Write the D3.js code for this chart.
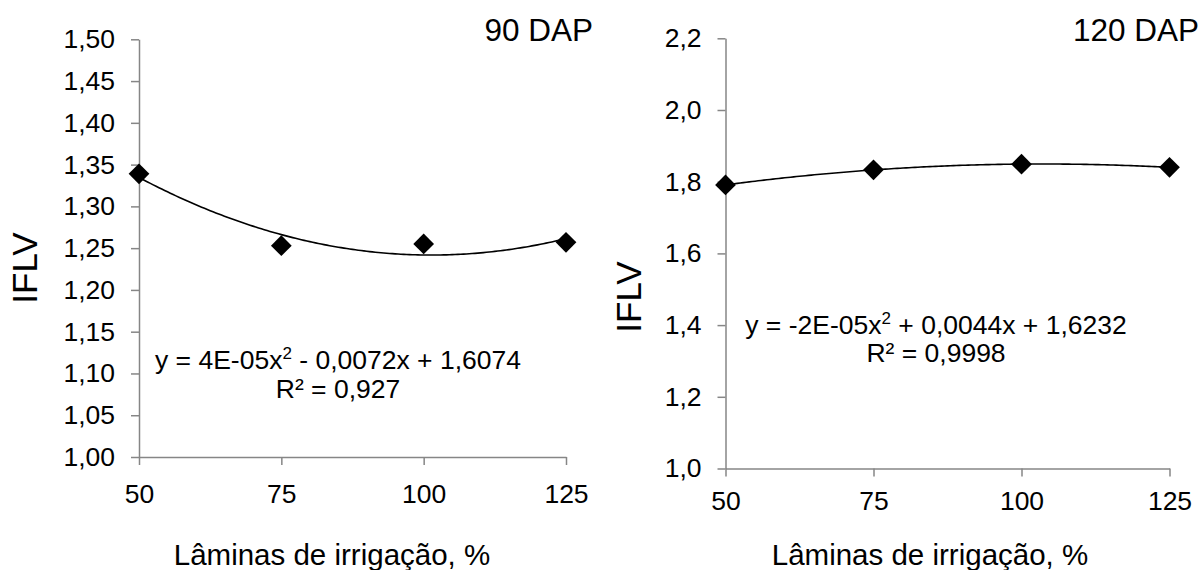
<!DOCTYPE html>
<html>
<head>
<meta charset="utf-8">
<script src="https://cdn.jsdelivr.net/npm/d3@7"></script>
<style>
  html, body { margin: 0; padding: 0; background: #fff; }
  svg { display: block; font-family: "Liberation Sans", Arial, sans-serif; }
</style>
</head>
<body>
<svg id="chart" width="1201" height="570"></svg>
<script>
// Irrigation depths (% of reference) and IFLV means at each evaluation date
const irrigation = [50, 75, 100, 125];
const iflv90 = [1.339, 1.253, 1.255, 1.257];
const iflv120 = [1.791, 1.833, 1.849, 1.840];

// Axis ticks
const xTicks = [50, 75, 100, 125];
const yTicks90 = [1.00, 1.05, 1.10, 1.15, 1.20, 1.25, 1.30, 1.35, 1.40, 1.45, 1.50];
const yTicks120 = [1.0, 1.2, 1.4, 1.6, 1.8, 2.0, 2.2];

// Panel texts
const panelTitles = ["90 DAP", "120 DAP"];
const equationParts = [
  ["y = 4E-05x", "2", " - 0,0072x + 1,6074"],
  ["y = -2E-05x", "2", " + 0,0044x + 1,6232"]
];
const r2Labels = ["R² = 0,927", "R² = 0,9998"];
const xTitle = "Lâminas de irrigação, %";
const yTitle = "IFLV";

const ptBR = d3.formatLocale({ decimal: ",", thousands: ".", grouping: [3], currency: ["R$", ""] });

// Least-squares second-order polynomial (trend line)
function quadFit(xs, ys) {
  const n = xs.length;
  let s = [0, 0, 0, 0, 0], t = [0, 0, 0];
  for (let i = 0; i < n; i++) {
    const x = xs[i], y = ys[i];
    for (let k = 0; k <= 4; k++) s[k] += Math.pow(x, k);
    for (let k = 0; k <= 2; k++) t[k] += y * Math.pow(x, k);
  }
  // Normal equations: [s0 s1 s2; s1 s2 s3; s2 s3 s4] [c0 c1 c2] = [t0 t1 t2]
  const A = [[s[0], s[1], s[2], t[0]], [s[1], s[2], s[3], t[1]], [s[2], s[3], s[4], t[2]]];
  for (let i = 0; i < 3; i++) {
    for (let j = i + 1; j < 3; j++) {
      const f = A[j][i] / A[i][i];
      for (let k = i; k < 4; k++) A[j][k] -= f * A[i][k];
    }
  }
  const c = [0, 0, 0];
  for (let i = 2; i >= 0; i--) {
    let v = A[i][3];
    for (let k = i + 1; k < 3; k++) v -= A[i][k] * c[k];
    c[i] = v / A[i][i];
  }
  return x => c[0] + c[1] * x + c[2] * x * x;
}

const svg = d3.select("#chart");

const panels = [
  {
    values: iflv90, yTicks: yTicks90, yDomain: [1.0, 1.5], fmt: ptBR.format(".2f"),
    xRange: [139, 566], yRange: [457, 39.3], xPad: 19,
    title: panelTitles[0], titleX: 593, titleY: 41,
    eq: equationParts[0], r2: r2Labels[0], eqX: 338, eqY: 369, r2Y: 398,
    xTitleX: 332, yTitleX: 37, yTitleY: 268
  },
  {
    values: iflv120, yTicks: yTicks120, yDomain: [1.0, 2.2], fmt: ptBR.format(".1f"),
    xRange: [725.5, 1169.5], yRange: [468.5, 38.3], xPad: 15,
    title: panelTitles[1], titleX: 1199, titleY: 41,
    eq: equationParts[1], r2: r2Labels[1], eqX: 936, eqY: 334, r2Y: 362,
    xTitleX: 930, yTitleX: 641, yTitleY: 297
  }
];

const axisColor = "#868686";

panels.forEach(p => {
  const x = d3.scaleLinear().domain([50, 125]).range(p.xRange);
  const y = d3.scaleLinear().domain(p.yDomain).range(p.yRange);
  const g = svg.append("g");

  // Y axis
  const yAxis = g.append("g")
    .attr("transform", `translate(${p.xRange[0]},0)`)
    .call(d3.axisLeft(y).tickValues(p.yTicks).tickFormat(p.fmt).tickSize(8).tickPadding(16).tickSizeOuter(0));
  // X axis
  const xAxis = g.append("g")
    .attr("transform", `translate(0,${p.yRange[0]})`)
    .call(d3.axisBottom(x).tickValues(xTicks).tickSize(8).tickPadding(p.xPad).tickSizeOuter(0));

  [yAxis, xAxis].forEach(a => {
    a.select(".domain").attr("stroke", axisColor).attr("stroke-width", 1.5);
    a.selectAll(".tick line").attr("stroke", axisColor).attr("stroke-width", 1.5);
    a.selectAll(".tick text").attr("fill", "#000").style("font-size", "26.5px")
      .style("font-family", "'Liberation Sans', Arial, sans-serif");
  });

  // Trend line
  const fit = quadFit(irrigation, p.values);
  const curveX = d3.range(50, 125.001, 0.5);
  g.append("path")
    .datum(curveX)
    .attr("fill", "none")
    .attr("stroke", "#000")
    .attr("stroke-width", 1.6)
    .attr("d", d3.line().x(d => x(d)).y(d => y(fit(d))));

  // Markers (diamonds)
  const diamond = d3.symbol().type(d3.symbolSquare).size(215);
  g.selectAll("path.pt")
    .data(irrigation.map((v, i) => [v, p.values[i]]))
    .join("path")
    .attr("class", "pt")
    .attr("d", diamond)
    .attr("fill", "#000")
    .attr("transform", d => `translate(${x(d[0])},${y(d[1])}) rotate(45)`);

  // Panel title
  g.append("text")
    .attr("x", p.titleX).attr("y", p.titleY)
    .attr("text-anchor", "end")
    .style("font-size", "31.5px")
    .text(p.title);

  // Regression equation
  const eq = g.append("text")
    .attr("x", p.eqX).attr("y", p.eqY)
    .attr("text-anchor", "middle")
    .style("font-size", "26.5px");
  eq.append("tspan").text(p.eq[0]);
  eq.append("tspan").attr("dy", -10).style("font-size", "17px").text(p.eq[1]);
  eq.append("tspan").attr("dy", 10).text(p.eq[2]);

  g.append("text")
    .attr("x", p.eqX).attr("y", p.r2Y)
    .attr("text-anchor", "middle")
    .style("font-size", "26.5px")
    .text(p.r2);

  // Axis titles
  g.append("text")
    .attr("x", p.xTitleX).attr("y", 565)
    .attr("text-anchor", "middle")
    .style("font-size", "29.5px")
    .text(xTitle);

  g.append("text")
    .attr("transform", `translate(${p.yTitleX},${p.yTitleY}) rotate(-90)`)
    .attr("text-anchor", "middle")
    .style("font-size", "35px")
    .text(yTitle);
});
</script>
</body>
</html>
